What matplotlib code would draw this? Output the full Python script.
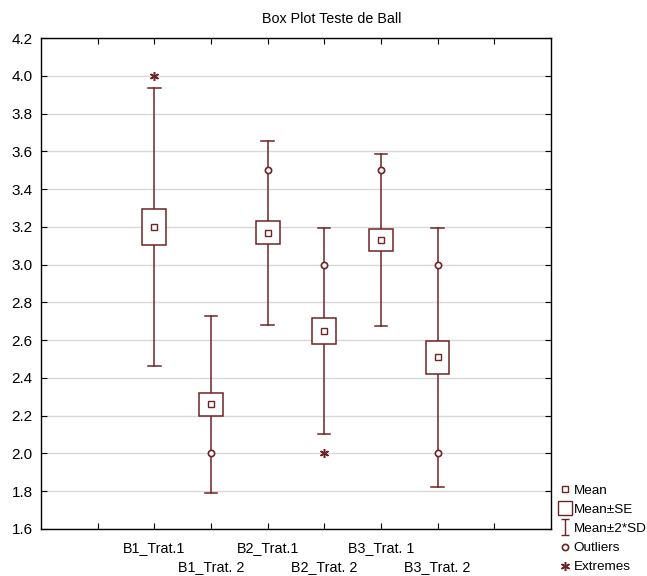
import matplotlib
matplotlib.use("Agg")
import matplotlib.pyplot as plt
from matplotlib.patches import Rectangle
from matplotlib.lines import Line2D
from matplotlib.path import Path

plt.rcParams['font.family'] = ['Liberation Sans', 'DejaVu Sans']

groups = ['B1_Trat.1', 'B1_Trat. 2', 'B2_Trat.1', 'B2_Trat. 2', 'B3_Trat. 1', 'B3_Trat. 2']
means = [3.20, 2.26, 3.17, 2.65, 3.13, 2.51]
se = [0.095, 0.063, 0.062, 0.068, 0.058, 0.088]
two_sd = [0.736, 0.468, 0.488, 0.546, 0.456, 0.687]
# points flagged per group
outliers = [[], [2.0], [3.5], [3.0], [3.5], [3.0, 2.0]]
extremes = [[4.0], [], [], [2.0], [], []]

col = '#6e2424'
box_w = 0.42
cap_w = 0.22

fig = plt.figure(figsize=(6.47, 5.76), dpi=100)
ax = fig.add_axes([0.0634, 0.0816, 0.788, 0.852])

positions = list(range(2, 2 + len(groups)))
for x, m, s, d, outs, exts in zip(positions, means, se, two_sd, outliers, extremes):
    # whisker: mean +/- 2*SD
    ax.plot([x, x], [m + s, m + d], color=col, lw=1.1, zorder=3)
    ax.plot([x, x], [m - d, m - s], color=col, lw=1.1, zorder=3)
    ax.plot([x - cap_w / 2, x + cap_w / 2], [m + d, m + d], color=col, lw=1.1, zorder=3)
    ax.plot([x - cap_w / 2, x + cap_w / 2], [m - d, m - d], color=col, lw=1.1, zorder=3)
    # mean +/- SE box
    ax.add_patch(Rectangle((x - box_w / 2, m - s), box_w, 2 * s,
                           facecolor='white', edgecolor=col, lw=1.1, zorder=4))
    ax.plot([x], [m], marker='s', ms=4.5, mfc='white', mec=col, mew=1, zorder=5)
    for v in outs:
        ax.plot([x], [v], marker='o', ms=4.5, mfc='white', mec=col, mew=1.2, zorder=5)
    for v in exts:
        ax.plot([x], [v], marker=(6, 2, 0), ms=6.5, color=col, mew=1.1, zorder=5)

ax.set_xlim(0, 9)
ax.set_ylim(1.6, 4.2)
ax.set_yticks([1.6 + 0.2 * i for i in range(14)])
ax.set_yticklabels(['%.1f' % (1.6 + 0.2 * i) for i in range(14)], fontsize=11)

# two staggered rows of group names: upper row on major ticks, lower row on minor ticks
ax.xaxis.remove_overlapping_locs = False
ax.set_xticks(range(1, 9))
upper = [''] + [g if i % 2 == 0 else '' for i, g in enumerate(groups)] + ['']
ax.set_xticklabels(upper, fontsize=10.3)
ax.set_xticks(positions[1::2], minor=True)
ax.set_xticklabels(groups[1::2], minor=True, fontsize=10.3)
ax.tick_params(which='major', direction='in', length=4, top=True, right=True, width=0.8)
ax.tick_params(axis='x', which='major', pad=9)
ax.tick_params(axis='x', which='minor', length=0, pad=22)
ax.tick_params(axis='y', pad=6)
ax.grid(axis='y', color='#d8d8d8', lw=1)
ax.set_axisbelow(True)
for sp in ax.spines.values():
    sp.set_linewidth(1)

fig.text(0.513, 0.967, 'Box Plot Teste de Ball', ha='center', va='center', fontsize=10.3)

# legend glyphs
ibeam = Path([(-0.5, 1), (0.5, 1), (0, 1), (0, -1), (-0.5, -1), (0.5, -1)],
             [Path.MOVETO, Path.LINETO, Path.MOVETO, Path.LINETO, Path.MOVETO, Path.LINETO])
handles = [
    Line2D([], [], ls='none', marker='s', ms=4.5, mfc='white', mec=col, mew=1),
    Line2D([], [], ls='none', marker='s', ms=10, mfc='white', mec=col, mew=1),
    Line2D([], [], ls='none', marker=ibeam, ms=12, color=col, mew=1),
    Line2D([], [], ls='none', marker='o', ms=4.5, mfc='white', mec=col, mew=1.2),
    Line2D([], [], ls='none', marker=(6, 2, 0), ms=6.5, color=col, mew=1.1),
]
labels = ['Mean', 'Mean±SE', 'Mean±2*SD', 'Outliers', 'Extremes']
fig.legend(handles, labels, loc='lower left', bbox_to_anchor=(0.852, -0.012),
           frameon=False, fontsize=9.7, handlelength=0.7, handletextpad=0.25,
           labelspacing=0.5, borderpad=0.2)

fig.savefig('out.png', dpi=100)
